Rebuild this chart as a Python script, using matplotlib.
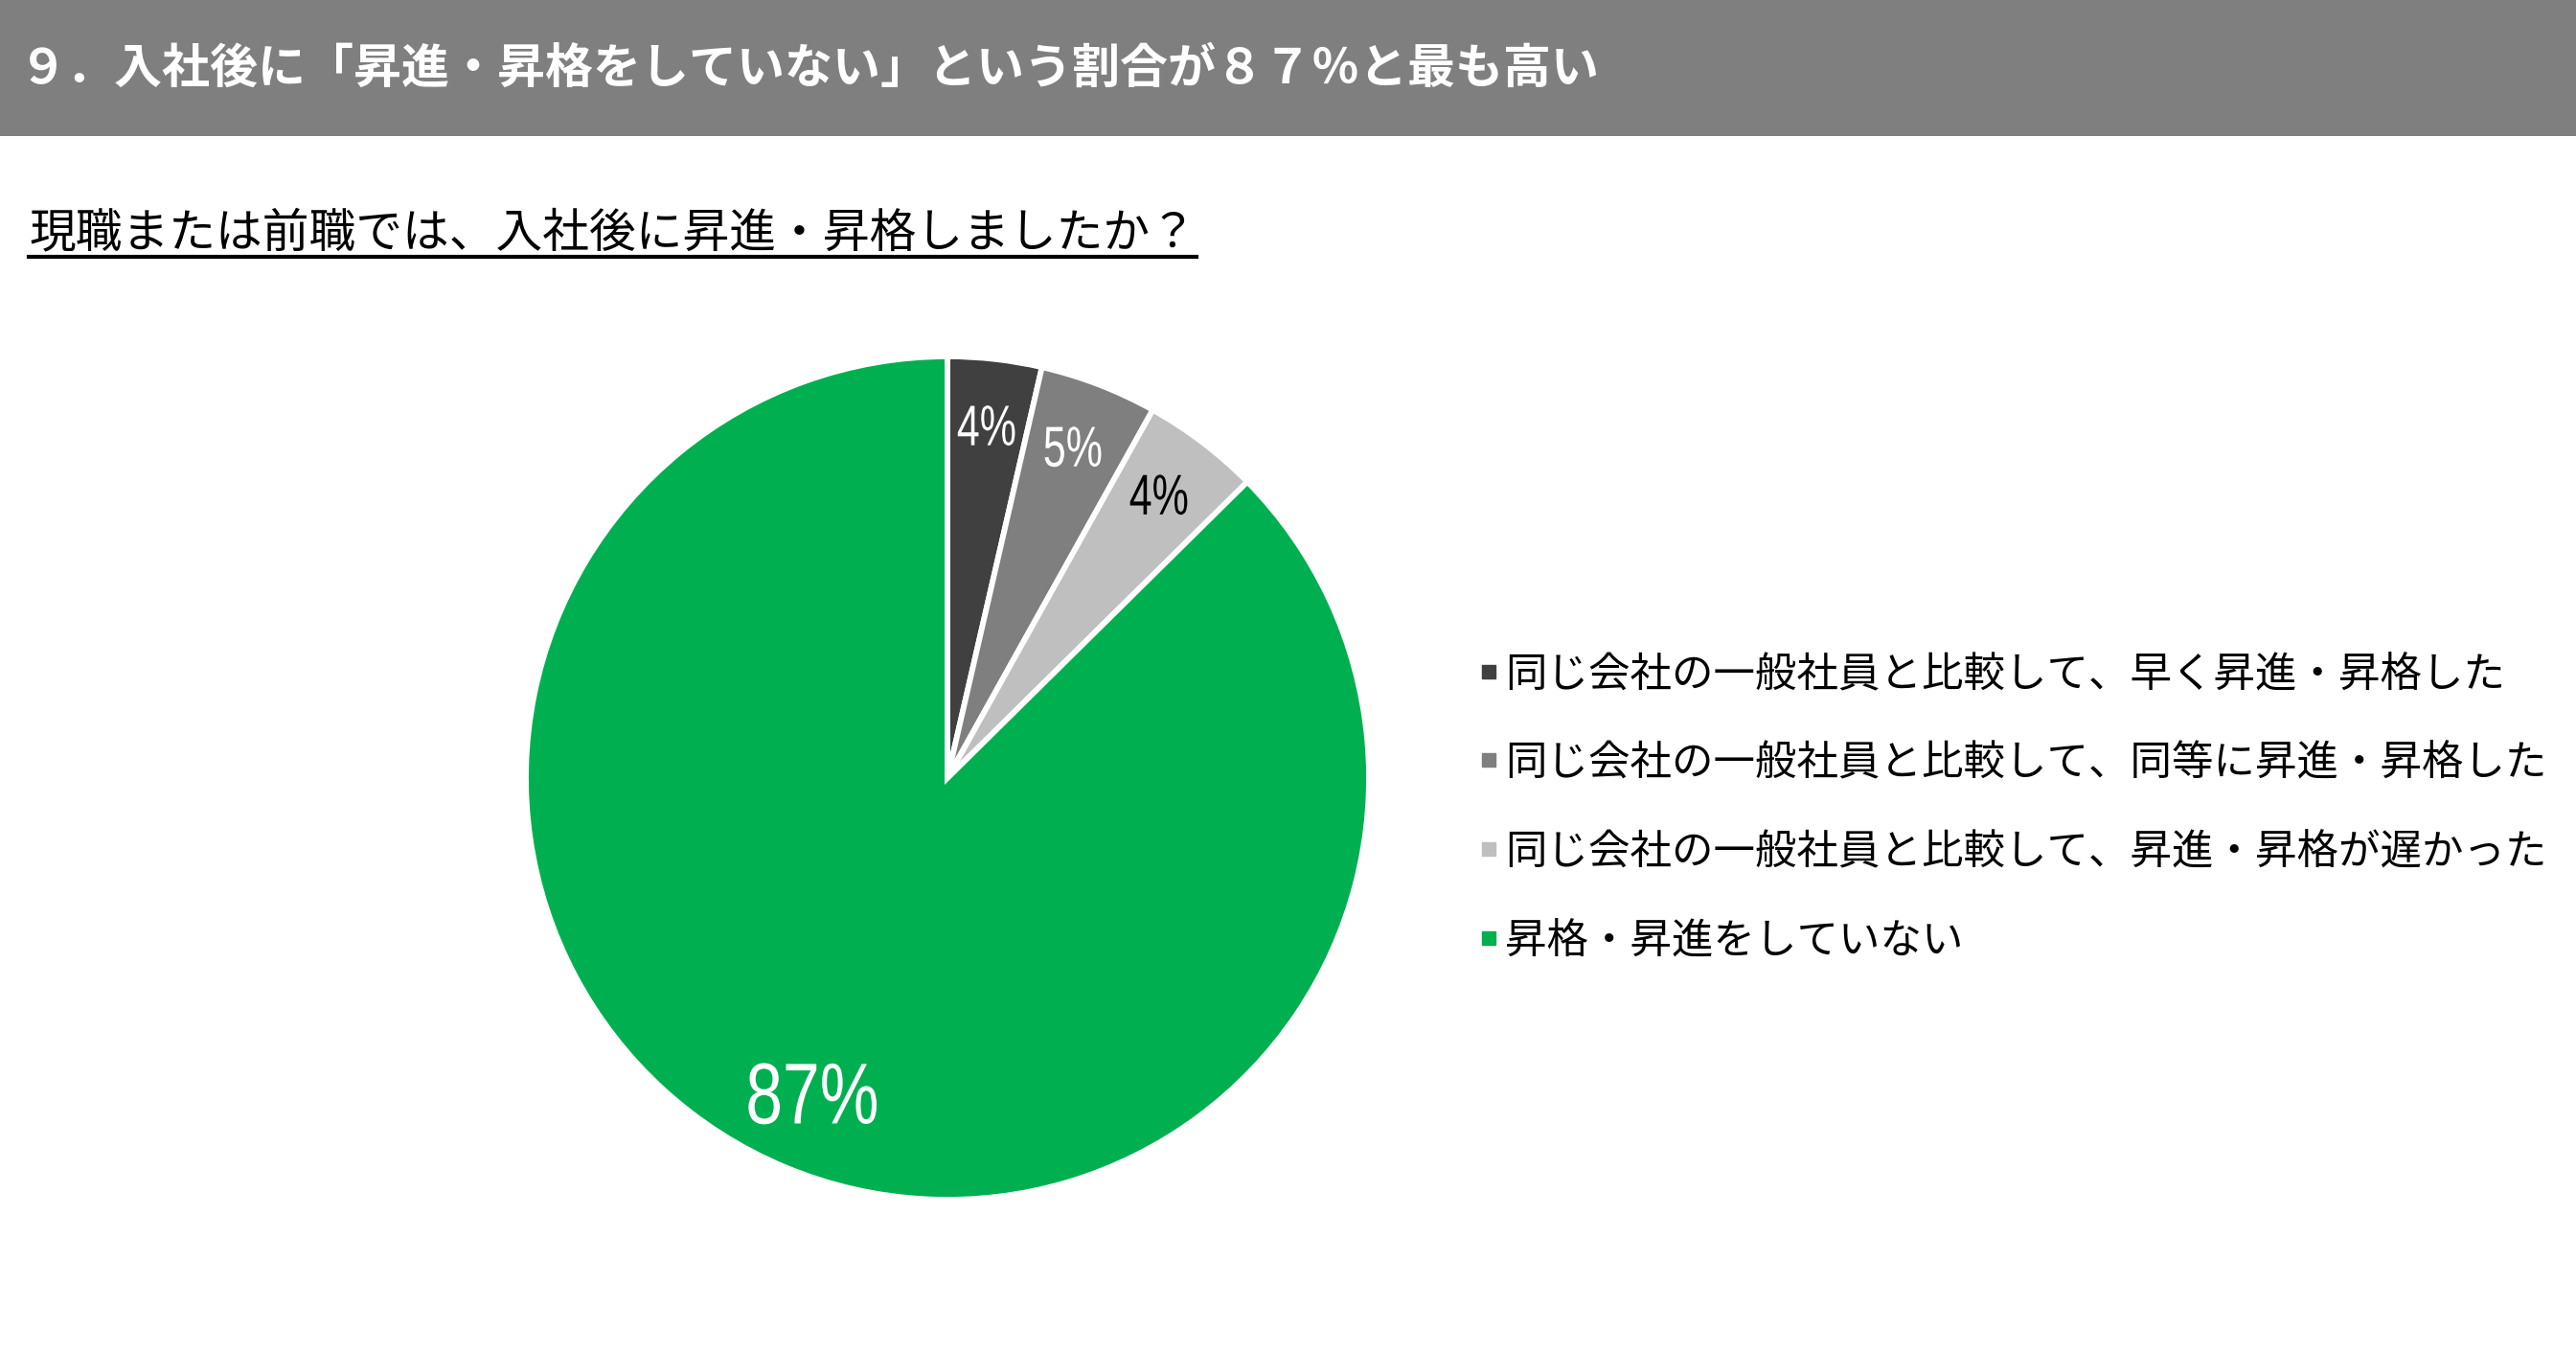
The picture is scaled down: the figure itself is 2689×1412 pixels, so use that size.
import matplotlib
matplotlib.use("Agg")
import matplotlib.pyplot as plt
from matplotlib import font_manager, patheffects
from matplotlib.lines import Line2D
from matplotlib.patches import Rectangle
from matplotlib.transforms import Affine2D

W, H, DPI = 2689, 1412, 100

TITLE = "９．入社後に「昇進・昇格をしていない」という割合が８７％と最も高い"
QUESTION = "現職または前職では、入社後に昇進・昇格しましたか？"

categories = [
    "同じ会社の一般社員と比較して、早く昇進・昇格した",
    "同じ会社の一般社員と比較して、同等に昇進・昇格した",
    "同じ会社の一般社員と比較して、昇進・昇格が遅かった",
    "昇格・昇進をしていない",
]
shares = [3.6, 4.5, 4.5, 87.4]
share_labels = ["4%", "5%", "4%", "87%"]

COLORS = ["#404040", "#7F7F7F", "#BFBFBF", "#00B050"]
LABEL_COLORS = ["white", "white", "black", "white"]
BAR = "#7F7F7F"

JP = ["Noto Sans CJK JP", "DejaVu Sans"]
plt.rcParams["font.family"] = JP

installed = {f.name for f in font_manager.fontManager.ttflist}
if "Liberation Sans Narrow" in installed:
    NUM, SQUEEZE = ["Liberation Sans Narrow", "DejaVu Sans"], 0.88
else:
    NUM, SQUEEZE = ["Liberation Sans", "DejaVu Sans"], 0.72


class Squeeze(patheffects.AbstractPathEffect):
    """Narrow the glyphs horizontally about their own centre (condensed look)."""

    def __init__(self, sx):
        super().__init__()
        self.sx = sx

    def draw_path(self, renderer, gc, tpath, affine, rgbFace=None):
        xs = affine.transform(tpath.vertices)[:, 0]
        mid = (xs.min() + xs.max()) / 2
        narrow = Affine2D().translate(-mid, 0).scale(self.sx, 1).translate(mid, 0)
        renderer.draw_path(gc, tpath, affine + narrow, rgbFace)


def fx(px):
    return px / W


def fy(px):
    # pixel row from the top -> figure fraction
    return 1 - px / H


fig = plt.figure(figsize=(W / DPI, H / DPI), dpi=DPI)

# grey heading band
fig.add_artist(Rectangle((0, fy(142)), 1, 142 / H, transform=fig.transFigure,
                         color=BAR, lw=0, zorder=0))
fig.text(fx(20), fy(72), TITLE, color="white", fontsize=36, fontweight="bold",
         va="center", ha="left")

q = fig.text(fx(30), fy(244), QUESTION, color="black", fontsize=35.1,
             va="center", ha="left")

# pie: centre (989, 812) px, radius 440 px
R, PAD = 440, 1.1
cx, cy = 989, 812
ax = fig.add_axes([fx(cx - R * PAD), fy(cy + R * PAD), 2 * R * PAD / W, 2 * R * PAD / H])
wedges, texts = ax.pie(
    shares, colors=COLORS, startangle=90, counterclock=False,
    labels=share_labels, labeldistance=0.83,
    wedgeprops=dict(edgecolor="white", linewidth=4.2),
)
ax.set_xlim(-PAD, PAD)
ax.set_ylim(-PAD, PAD)
ax.set_aspect("equal")
for t, c in zip(texts, LABEL_COLORS):
    t.set_ha("center")
    t.set_va("center")
    t.set_color(c)
    t.set_family(NUM)
    t.set_fontsize(43)
    t.set_path_effects([Squeeze(SQUEEZE)])
texts[-1].set_fontsize(65)
texts[-1].set_path_effects([Squeeze(SQUEEZE + 0.05)])

handles = [Line2D([], [], ls="none", marker="s", ms=10, mfc=c, mec=c) for c in COLORS]
fig.legend(handles, categories, loc="center left", bbox_to_anchor=(fx(1545), fy(843)),
           frameon=False, prop={"family": JP, "size": 31.3},
           handlelength=0.4, handletextpad=0.2, labelspacing=1.12,
           borderpad=0, borderaxespad=0)

# underline the question
fig.canvas.draw()
bb = q.get_window_extent().transformed(fig.transFigure.inverted())
fig.add_artist(Line2D([bb.x0, bb.x1], [fy(268)] * 2, color="black", lw=3,
                      transform=fig.transFigure))

fig.savefig("out.png", dpi=DPI)
